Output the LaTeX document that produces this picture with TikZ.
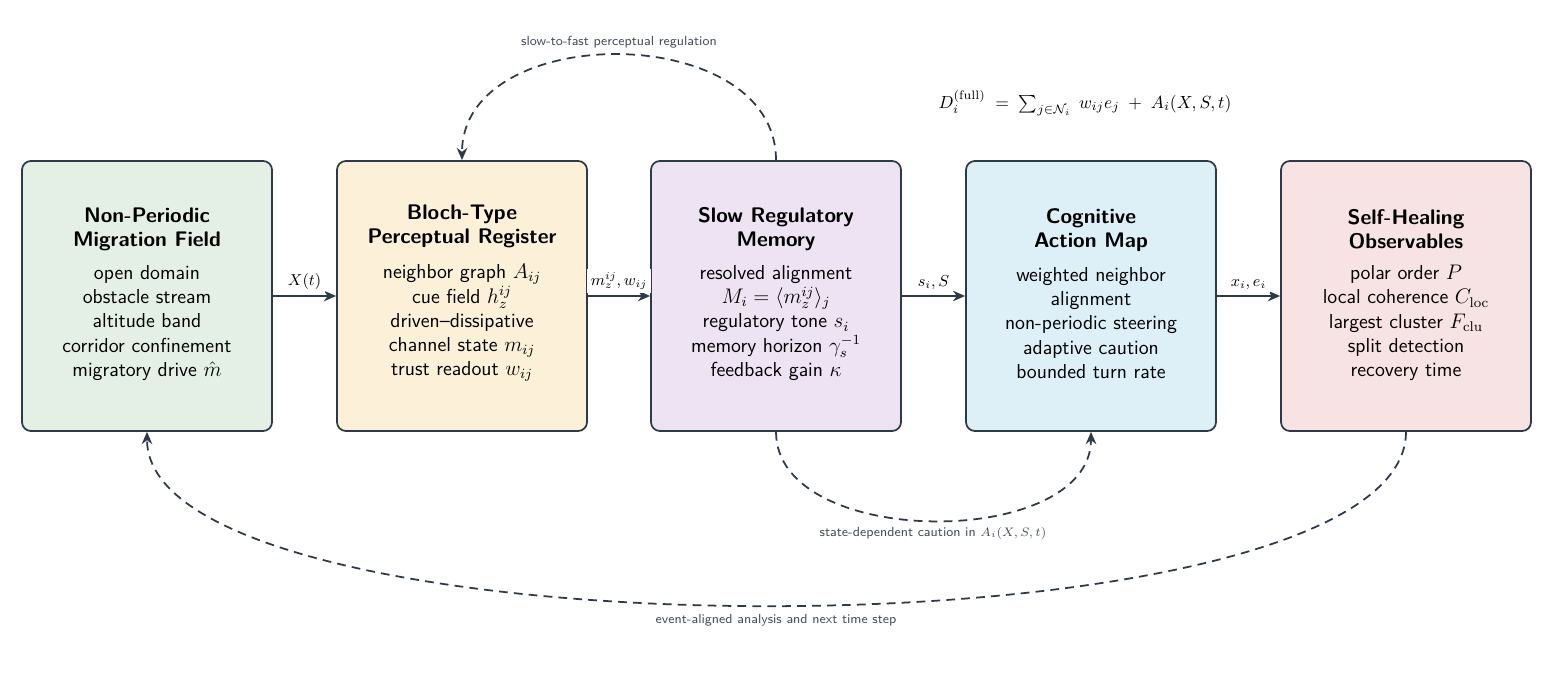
\documentclass[tikz,border=0pt]{standalone}
\usepackage{amsmath}
\usetikzlibrary{arrows.meta}
\definecolor{edge}{HTML}{2E3A48}
\definecolor{cA}{HTML}{E4F0E6}
\definecolor{cB}{HTML}{FDF0D8}
\definecolor{cC}{HTML}{EEE3F2}
\definecolor{cD}{HTML}{DDEFF7}
\definecolor{cE}{HTML}{F7E3E3}
\begin{document}
\begin{tikzpicture}[x=0.02cm,y=-0.02cm,font=\sffamily,
 box/.style={draw=edge,line width=1pt,rounded corners=5pt,minimum width=5cm,minimum height=5.4cm,inner sep=0pt},
 ttl/.style={font=\sffamily\bfseries\fontsize{12}{13.5}\selectfont,align=center},
 body/.style={font=\sffamily\fontsize{11.5}{13.8}\selectfont,align=center},
 flow/.style={draw=edge,line width=1.1pt,-{Stealth[length=7pt,width=6pt]}},
 fb/.style={draw=edge,line width=1pt,dashed,dash pattern=on 5pt off 3.5pt,-{Stealth[length=7pt,width=6pt]}},
 lbl/.style={font=\sffamily\fontsize{7.5}{8.5}\selectfont,text=edge!90},
 alab/.style={fill=white,inner sep=2pt,font=\fontsize{9}{10}\selectfont}]
\useasboundingbox (0,0) rectangle (1554,689);
\node[box,fill=cA] (a) at (147,296) {};
\node[box,fill=cB] (b) at (462,296) {};
\node[box,fill=cC] (c) at (776,296) {};
\node[box,fill=cD] (d) at (1091,296) {};
\node[box,fill=cE] (e) at (1406,296) {};
\node[ttl] (ta) at (147,229) {Non-Periodic\\Migration Field};
\node[body] (ba) at (147,323) {open domain\\obstacle stream\\altitude band\\corridor confinement\\migratory drive $\hat m$};
\node[ttl] (tb) at (462,226) {Bloch-Type\\Perceptual Register};
\node[body] (bb) at (462,323) {neighbor graph $A_{ij}$\\cue field $h_z^{ij}$\\driven--dissipative\\channel state $m_{ij}$\\trust readout $w_{ij}$};
\node[ttl] (tc) at (776,229) {Slow Regulatory\\Memory};
\node[body] (bc) at (776,323) {resolved alignment\\$M_i=\langle m_z^{ij}\rangle_j$\\regulatory tone $s_i$\\memory horizon $\gamma_s^{-1}$\\feedback gain $\kappa$};
\node[ttl] (td) at (1091,230) {Cognitive\\Action Map};
\node[body] (bd) at (1091,323) {weighted neighbor\\alignment\\non-periodic steering\\adaptive caution\\bounded turn rate};
\node[ttl] (te) at (1406,229) {Self-Healing\\Observables};
\node[body] (be) at (1406,323) {polar order $P$\\local coherence $C_{\mathrm{loc}}$\\largest cluster $F_{\mathrm{clu}}$\\split detection\\recovery time};
\draw[flow] (a.east) -- node[alab,above=1pt] {$X(t)$} (b.west);
\draw[flow] (b.east) -- node[alab,above=1pt] {$m_z^{ij},w_{ij}$} (c.west);
\draw[flow] (c.east) -- node[alab,above=1pt] {$s_i,S$} (d.west);
\draw[flow] (d.east) -- node[alab,above=1pt] {$x_i,e_i$} (e.west);
\draw[fb] (c.north) .. controls (776,20) and (462,20) .. (b.north);
\draw[fb] (c.south) .. controls (776,550) and (1091,550) .. (d.south);
\draw[fb] (e.south) .. controls (1406,663) and (147,663) .. (a.south);
\node[lbl] (l1) at (619,42) {slow-to-fast perceptual regulation};
\node[lbl] (l2) at (933,533) {state-dependent caution in $A_i(X,S,t)$};
\node[lbl] (l3) at (776,620) {event-aligned analysis and next time step};
\node[font=\fontsize{10}{11}\selectfont] (f) at (1085,103) {$D_i^{(\mathrm{full})}\;=\;\sum_{j\in\mathcal{N}_i}\; w_{ij}e_j \;+\; A_i(X,S,t)$};
\end{tikzpicture}
\end{document}
